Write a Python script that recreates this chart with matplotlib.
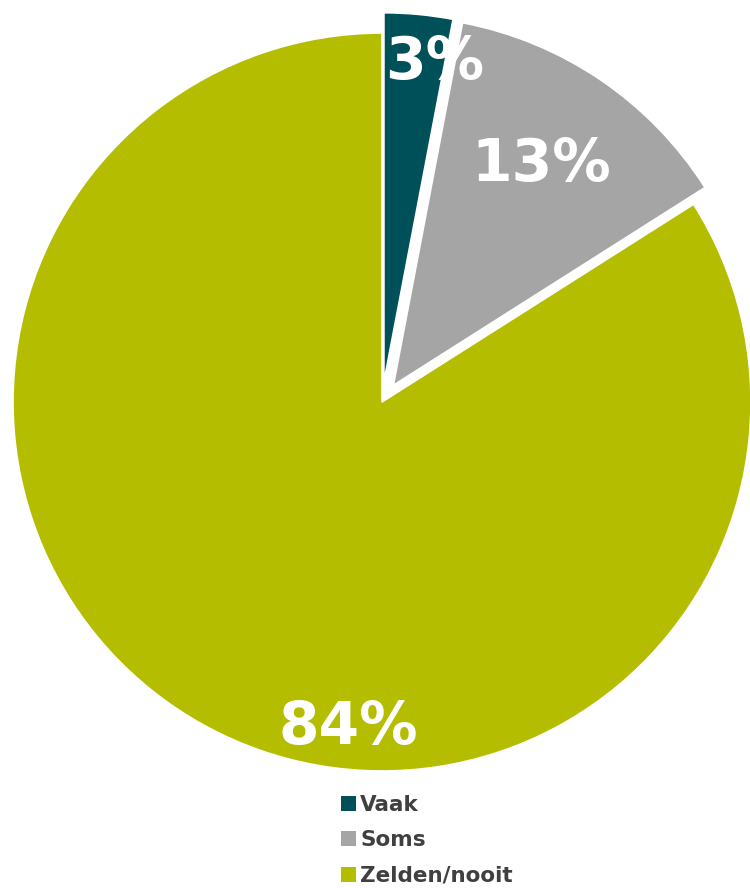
import matplotlib.pyplot as plt
from matplotlib.patches import Patch

labels = ['Vaak', 'Soms', 'Zelden/nooit']
values = [3, 13, 84]
colors = ['#00505A', '#A5A5A5', '#B5BD00']
explode = [0.055, 0.055, 0]

fig = plt.figure(figsize=(7.5, 8.88), dpi=100)
# axes box in pixels: pie radius 369 centred at (382, 402)
ax = fig.add_axes([13 / 750, 117 / 888, 738 / 750, 738 / 888])

wedges, texts = ax.pie(values, colors=colors, startangle=90, counterclock=False,
                       explode=explode, radius=1,
                       wedgeprops=dict(edgecolor='white', linewidth=1.2))
for w in wedges:
    w.set_clip_on(False)
ax.set_xlim(-1, 1)
ax.set_ylim(-1, 1)
ax.set_aspect('equal')
ax.axis('off')

# percentage labels
label_pos = [(435, 62), (541, 164), (348, 727)]
for (px, py), v in zip(label_pos, values):
    fig.text(px / 750, 1 - py / 888, str(v) + '%', color='white', fontsize=42,
             fontweight='bold', ha='center', va='center')

handles = [Patch(facecolor=c, edgecolor='none') for c in colors]
fig.legend(handles, labels, loc='upper left', bbox_to_anchor=(330 / 750, 1 - 784 / 888),
           frameon=False, labelcolor='#404040', prop={'weight': 'bold', 'size': 15.5},
           handlelength=0.7, handleheight=0.7, handletextpad=0.2, labelspacing=0.72,
           borderpad=0)

fig.savefig('out.png', dpi=100)
